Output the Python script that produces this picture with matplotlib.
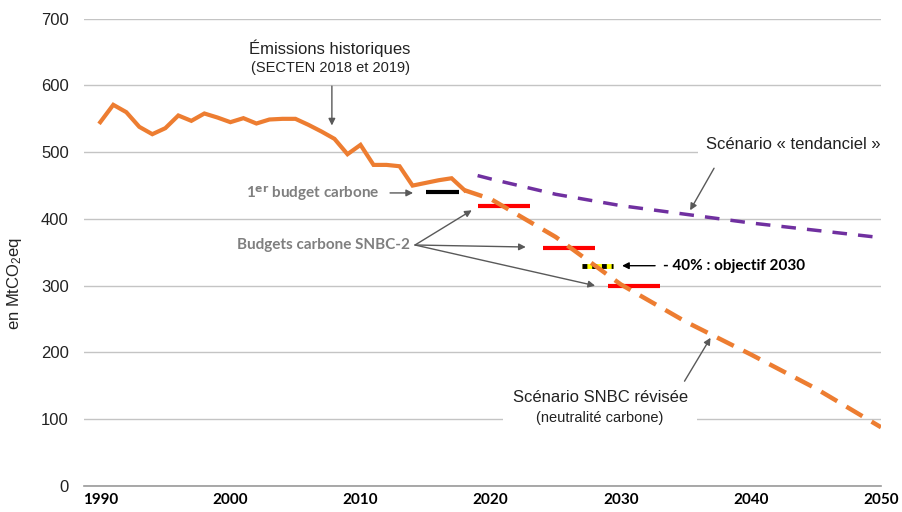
import matplotlib
matplotlib.use('Agg')
import matplotlib.pyplot as plt

plt.rcParams['font.family'] = ['Liberation Sans', 'DejaVu Sans']
plt.rcParams['mathtext.fontset'] = 'custom'
plt.rcParams['mathtext.rm'] = 'Liberation Sans'
plt.rcParams['mathtext.it'] = 'Liberation Sans'

# historical emissions (SECTEN), MtCO2eq
hist_years = list(range(1990, 2019))
hist_values = [545, 571, 560, 538, 527, 536, 555, 547, 558, 552,
               545, 551, 543, 549, 550, 550, 541, 531, 520, 497,
               511, 481, 481, 479, 450, 454, 458, 461, 443]

# trend scenario
trend_years = [2019, 2020, 2025, 2030, 2035, 2040, 2045, 2050]
trend_values = [465, 460, 437, 420, 407, 394, 383, 372]

# revised SNBC scenario
snbc_years = [2018, 2020, 2025, 2030, 2035, 2040, 2045, 2050]
snbc_values = [443, 430, 373, 302, 246, 197, 146, 88]

# carbon budgets
first_budget = (2015, 2017.6, 440)
snbc2_start = [2019, 2024, 2029]
snbc2_end = [2023, 2028, 2033]
snbc2_values = [420, 357, 299]
target_2030 = (2027.0, 2029.4, 329)

x_ticks = [1990, 2000, 2010, 2020, 2030, 2040, 2050]
y_ticks = [0, 100, 200, 300, 400, 500, 600, 700]

fig = plt.figure(figsize=(9.03, 5.12), dpi=100)
ax = fig.add_axes([84 / 903, 1 - 486 / 512, 797 / 903, (486 - 18.7) / 512])

orange = '#ED7D31'
purple = '#7030A0'
grey_txt = '#7f7f7f'
arrow_grey = '#595959'
dark = '#222222'

ax.plot(hist_years, hist_values, color=orange, lw=3, solid_joinstyle='miter', zorder=4)
ax.plot(snbc_years, snbc_values, color=orange, lw=3.2, dashes=(4.2, 2.4), zorder=4)
ax.plot(trend_years, trend_values, color=purple, lw=2.5, dashes=(4.2, 3.2), zorder=4)

ax.plot(first_budget[:2], [first_budget[2]] * 2, color='black', lw=3, solid_capstyle='butt', zorder=3)
for s, e, v in zip(snbc2_start, snbc2_end, snbc2_values):
    ax.plot([s, e], [v, v], color='red', lw=3, solid_capstyle='butt', zorder=3)
ax.plot(target_2030[:2], [target_2030[2]] * 2, color='#FFFF00', lw=3.5, solid_capstyle='butt', zorder=3)
ax.plot(target_2030[:2], [target_2030[2]] * 2, color='black', lw=3.5, dashes=(1, 1), zorder=3)

ax.set_xlim(1988.75, 2050.0)
ax.set_ylim(0, 700)
ax.set_xticks(x_ticks)
ax.set_yticks(y_ticks)
ax.tick_params(axis='both', length=0)
ax.tick_params(axis='y', pad=11, labelsize=12, labelcolor=dark)
ax.tick_params(axis='x', pad=5)
for lbl in ax.get_xticklabels():
    lbl.set_fontfamily('Lato')
    lbl.set_fontweight('bold')
    lbl.set_fontsize(11)
ax.grid(axis='y', color='#c4c4c4', lw=1)
ax.set_axisbelow(True)
for side in ['left', 'right', 'top']:
    ax.spines[side].set_visible(False)
ax.spines['bottom'].set_color('#9a9a9a')
ax.spines['bottom'].set_linewidth(1.2)
ax.spines['bottom'].set_zorder(2)

fig.text(15 / 903, 1 - 283 / 512, 'en MtCO$_2$eq', rotation=90, ha='center', va='center',
         fontsize=12, color=dark)

arr = dict(arrowstyle='-|>', color=arrow_grey, lw=1, mutation_scale=10, shrinkA=0, shrinkB=0)

# historical emissions
ax.text(2007.66, 656, 'Émissions historiques', ha='center', va='center', fontsize=12, color=dark)
ax.text(2007.66, 626, '(SECTEN 2018 et 2019)', ha='center', va='center', fontsize=10.5, color=dark)
ax.annotate('', xy=(2007.8, 540), xytext=(2007.8, 599), arrowprops=arr)

# first budget
ax.text(2011.5, 439, '1$^{\\mathbf{er}}$ budget carbone', ha='right', va='center', fontsize=11,
        fontweight='bold', color=grey_txt, family='Lato')
ax.annotate('', xy=(2014.04, 439), xytext=(2012.27, 439), arrowprops=arr)

# SNBC-2 budgets
ax.text(2013.8, 361, 'Budgets carbone SNBC-2', ha='right', va='center', fontsize=11,
        fontweight='bold', color=grey_txt, family='Lato')
for tx, ty in [(2018.55, 413), (2022.7, 358), (2028.03, 300)]:
    ax.annotate('', xy=(tx, ty), xytext=(2014.19, 361), arrowprops=arr)

# 2030 target
ax.text(2033.25, 330, '- 40% : objectif 2030', ha='left', va='center', fontsize=11,
        fontweight='bold', color='black', family='Lato')
ax.annotate('', xy=(2030.1, 330), xytext=(2032.64, 330),
            arrowprops=dict(arrowstyle='-|>', color='black', lw=1, mutation_scale=10, shrinkA=0, shrinkB=0))

# trend scenario
ax.text(2043.25, 511, 'Scénario « tendanciel »', ha='center', va='center', fontsize=12, color=dark,
        bbox=dict(boxstyle='square,pad=0.5', fc='white', ec='none'))
ax.annotate('', xy=(2035.33, 413), xytext=(2037.17, 476), arrowprops=arr)

# SNBC scenario
ax.text(2028.41, 132, 'Scénario SNBC révisée', ha='center', va='center', fontsize=12, color=dark, zorder=6)
ax.text(2028.41, 102, '(neutralité carbone)', ha='center', va='center', fontsize=10.5, color=dark,
        bbox=dict(boxstyle='square,pad=2.3', fc='white', ec='none'), zorder=2.5)
ax.annotate('', xy=(2036.9, 222), xytext=(2034.9, 157), arrowprops=arr, zorder=5)

fig.savefig('out.png', dpi=100)
